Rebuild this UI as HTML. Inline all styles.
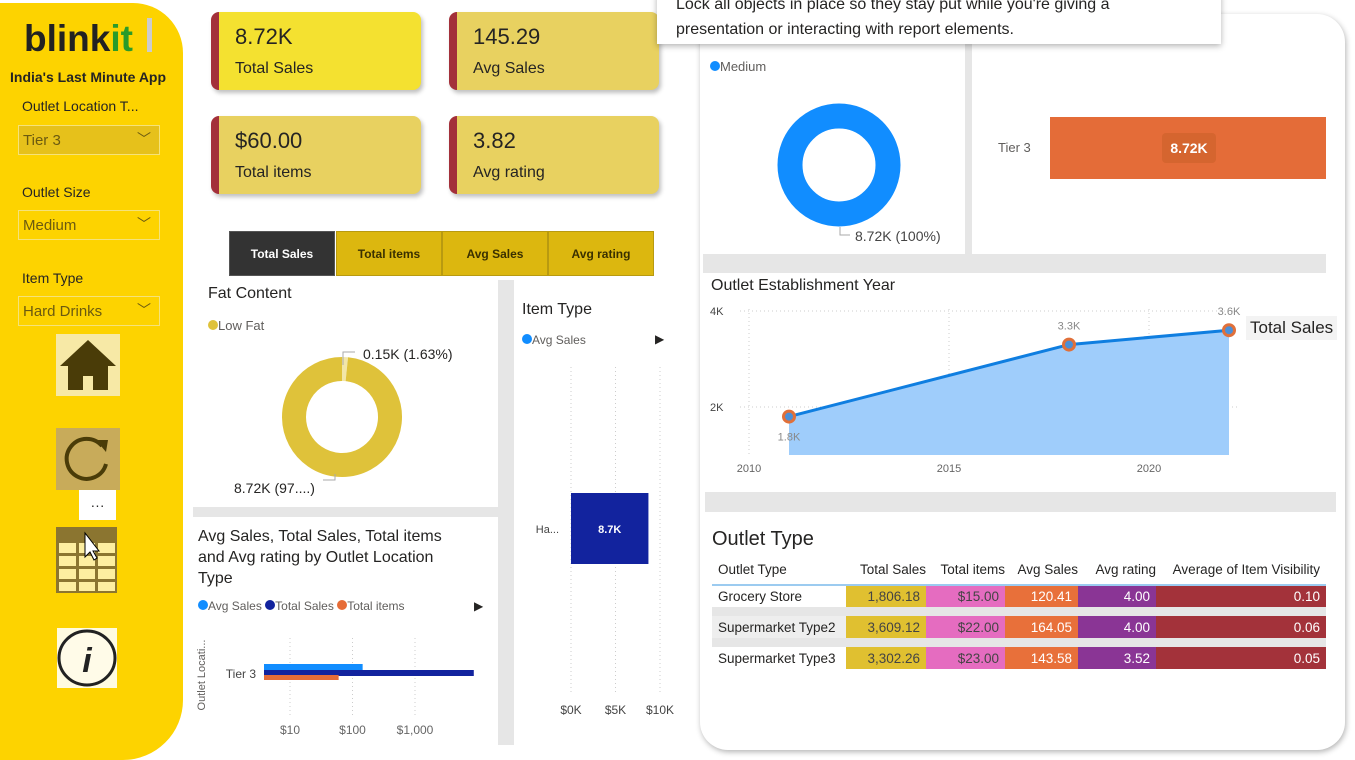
<!DOCTYPE html>
<html><head><meta charset="utf-8">
<style>
*{box-sizing:border-box;margin:0;padding:0}
body{width:1355px;height:760px;position:relative;overflow:hidden;background:#fff;font-family:"Liberation Sans",sans-serif;color:#252423}
.a{position:absolute}
.kpi{position:absolute;width:210px;height:78px;border-radius:8px;border-left:8px solid #a3303a;box-shadow:2px 3px 4px rgba(0,0,0,.25);padding:12px 0 0 16px}
.kpi .v{font-size:22px;color:#252423}
.kpi .l{font-size:16px;margin-top:10px}
.sl{position:absolute;left:18px;width:142px;height:30px;border:1px solid #f5e27a;background:#e6c11b;font-size:15px;color:#6b5a10;padding:6px 4px}
.sl span{position:absolute;right:8px;top:3px;font-size:14px}
.btn{position:absolute;top:231px;height:45px;background:#dcb70f;border:1px solid #b89a10;font-size:12px;font-weight:bold;color:#3a3000;text-align:center;line-height:45px}
svg text{font-family:"Liberation Sans",sans-serif}
table{border-collapse:collapse;font-size:13.5px}
</style></head><body>
<!-- sidebar -->
<div class="a" style="left:0;top:3px;width:183px;height:757px;background:#fdd300;border-radius:0 50px 60px 0"></div>
<div class="a" style="left:24px;top:18px;font-size:37px;font-weight:bold;color:#222">blink<span style="color:#2a9b2a">it</span></div>
<div class="a" style="left:147px;top:18px;width:5px;height:34px;background:#ccc"></div>
<div class="a" style="left:10px;top:69px;font-size:14px;font-weight:bold">India's Last Minute App</div>
<div class="a" style="left:22px;top:98px;font-size:14px">Outlet Location T...</div>
<div class="sl" style="top:125px">Tier 3<span>﹀</span></div>
<div class="a" style="left:22px;top:184px;font-size:14px">Outlet Size</div>
<div class="sl" style="top:210px;background:#fdd300">Medium<span>﹀</span></div>
<div class="a" style="left:22px;top:270px;font-size:14px">Item Type</div>
<div class="sl" style="top:296px;background:#fdd300">Hard Drinks<span>﹀</span></div>
<div class="a" style="left:56px;top:334px;width:64px;height:62px;background:#f7e9a6">
<svg width="64" height="62"><polygon points="32,6 4,32 12,32 12,56 27,56 27,42 37,42 37,56 52,56 52,32 60,32" fill="#4a3c08"/></svg></div>
<div class="a" style="left:56px;top:428px;width:64px;height:62px;background:#c8ab5a">
<svg width="64" height="62"><path d="M46 18 A20 20 0 1 0 50 36" fill="none" stroke="#4a3c08" stroke-width="4"/><polygon points="40,12 52,12 50,24" fill="#4a3c08"/></svg></div>
<div class="a" style="left:79px;top:490px;width:37px;height:30px;background:#fff;text-align:center;font-size:14px;line-height:30px">···</div>
<div class="a" style="left:56px;top:527px;width:61px;height:66px;background:#8b7530">
<svg width="61" height="66"><g fill="#fdeea0"><rect x="3" y="16" width="17" height="10"/><rect x="23" y="16" width="16" height="10"/><rect x="42" y="16" width="17" height="10"/><rect x="3" y="29" width="17" height="10"/><rect x="23" y="29" width="16" height="10"/><rect x="42" y="29" width="17" height="10"/><rect x="3" y="42" width="17" height="10"/><rect x="23" y="42" width="16" height="10"/><rect x="42" y="42" width="17" height="10"/><rect x="3" y="55" width="17" height="9"/><rect x="23" y="55" width="16" height="9"/><rect x="42" y="55" width="17" height="9"/></g><path d="M29 6 L29 30 L34 25 L38 33 L41 31 L37 24 L43 24 Z" fill="#fff" stroke="#000"/></svg></div>
<div class="a" style="left:57px;top:628px;width:60px;height:60px;background:#fffbe0">
<svg width="60" height="60"><ellipse cx="30" cy="30" rx="28" ry="27" fill="#fffbe8" stroke="#222" stroke-width="3"/><text x="30" y="44" text-anchor="middle" font-size="34" font-style="italic" font-weight="bold" font-family="Liberation Serif" fill="#222">i</text></svg></div>

<!-- KPIs -->
<div class="kpi" style="left:211px;top:12px;background:#f4e130"><div class="v">8.72K</div><div class="l">Total Sales</div></div>
<div class="kpi" style="left:449px;top:12px;background:#e8d160"><div class="v">145.29</div><div class="l">Avg Sales</div></div>
<div class="kpi" style="left:211px;top:116px;background:#e8d160"><div class="v">$60.00</div><div class="l">Total items</div></div>
<div class="kpi" style="left:449px;top:116px;background:#e8d160"><div class="v">3.82</div><div class="l">Avg rating</div></div>

<div class="btn" style="left:229px;width:106px;background:#333;color:#fff;border-color:#555">Total Sales</div>
<div class="btn" style="left:336px;width:106px">Total items</div>
<div class="btn" style="left:442px;width:106px">Avg Sales</div>
<div class="btn" style="left:548px;width:106px">Avg rating</div>

<!-- dividers left -->
<div class="a" style="left:498px;top:280px;width:16px;height:465px;background:#e6e6e6"></div>
<div class="a" style="left:193px;top:507px;width:305px;height:10px;background:#e6e6e6"></div>

<!-- fat content -->
<div class="a" style="left:208px;top:285px;font-size:16px">Fat Content</div>
<div class="a" style="left:208px;top:318px;font-size:13px;color:#605e5c"><span style="display:inline-block;width:10px;height:10px;border-radius:50%;background:#dfc23a"></span>Low Fat</div>
<svg class="a" style="left:195px;top:330px" width="300" height="175">
<g id="fatg"></g>
<text x="168" y="29" font-size="14" fill="#252423">0.15K (1.63%)</text>
<text x="39" y="163" font-size="14" fill="#252423">8.72K (97....)</text>
<path d="M148 35 L148 22 L160 22" stroke="#aaa" fill="none"/><path d="M128 150 L140 150 L140 144" stroke="#aaa" fill="none"/>
</svg>

<!-- item type -->
<div class="a" style="left:522px;top:301px;font-size:16px">Item Type</div>
<div class="a" style="left:522px;top:333px;font-size:12px;color:#605e5c"><span style="display:inline-block;width:10px;height:10px;border-radius:50%;background:#118dff"></span>Avg Sales</div>
<div class="a" style="left:655px;top:332px;font-size:12px">▶</div>
<svg class="a" style="left:515px;top:360px" width="180" height="370" id="itemsvg"></svg>

<!-- log bar chart -->
<div class="a" style="left:198px;top:526px;font-size:16px;line-height:21px;width:272px">Avg Sales, Total Sales, Total items and Avg rating by Outlet Location Type</div>
<div class="a" style="left:198px;top:599px;font-size:12px;color:#605e5c">
<span style="display:inline-block;width:10px;height:10px;border-radius:50%;background:#118dff"></span>Avg Sales <span style="display:inline-block;width:10px;height:10px;border-radius:50%;background:#12239e"></span>Total Sales <span style="display:inline-block;width:10px;height:10px;border-radius:50%;background:#e66c37"></span>Total items</div>
<div class="a" style="left:474px;top:599px;font-size:12px">▶</div>
<svg class="a" style="left:193px;top:620px" width="305" height="125" id="logsvg">
<text transform="translate(12,55) rotate(-90)" text-anchor="middle" font-size="11" fill="#605e5c">Outlet Locati...</text>
</svg>

<!-- right card -->
<div class="a" style="left:700px;top:14px;width:645px;height:736px;background:#fff;border-radius:28px;box-shadow:1px 2px 6px rgba(0,0,0,.3)"></div>
<div class="a" style="left:965px;top:40px;width:7px;height:215px;background:#e6e6e6"></div>
<div class="a" style="left:703px;top:254px;width:623px;height:19px;background:#e6e6e6"></div>
<div class="a" style="left:705px;top:492px;width:631px;height:20px;background:#e6e6e6"></div>

<div class="a" style="left:710px;top:59px;font-size:13px;color:#605e5c"><span style="display:inline-block;width:10px;height:10px;border-radius:50%;background:#118dff"></span>Medium</div>
<svg class="a" style="left:700px;top:80px" width="265" height="175">
<circle cx="139" cy="85" r="49" fill="none" stroke="#118dff" stroke-width="25"/>
<path d="M140 147 L140 155 L150 155" stroke="#aaa" fill="none"/>
<text x="155" y="161" font-size="14" fill="#444">8.72K (100%)</text>
</svg>
<div class="a" style="left:998px;top:140px;font-size:13px;color:#605e5c">Tier 3</div>
<div class="a" style="left:1050px;top:117px;width:276px;height:62px;background:#e46c38"></div>
<div class="a" style="left:1162px;top:133px;width:54px;height:30px;background:#d5652f;border-radius:4px;color:#fff;font-weight:bold;font-size:14px;text-align:center;line-height:30px">8.72K</div>

<div class="a" style="left:711px;top:277px;font-size:16px">Outlet Establishment Year</div>
<svg class="a" style="left:700px;top:295px" width="645" height="190" id="linesvg"></svg>
<div class="a" style="left:1246px;top:316px;padding:2px 4px;background:#f3f3f3;font-size:17px">Total Sales</div>

<!-- table -->
<div class="a" style="left:712px;top:528px;font-size:20px">Outlet Type</div>
<table class="a" style="left:712px;top:555px;width:614px">
<tr style="height:30px;color:#252423;border-bottom:2px solid #9ccbf0"><td style="padding-left:6px;width:134px">Outlet Type</td><td style="text-align:right;width:80px">Total Sales</td><td style="text-align:right;width:79px">Total items</td><td style="text-align:right;width:73px">Avg Sales</td><td style="text-align:right;width:78px">Avg rating</td><td style="text-align:right;padding-right:6px">Average of Item Visibility</td></tr>
<tbody id="tbody"></tbody></table>

<!-- tooltip -->
<div class="a" style="left:657px;top:-8px;width:564px;height:52px;background:#fff;box-shadow:0 2px 6px rgba(0,0,0,.3);padding:0 19px;font-size:16px;line-height:25px;color:#252423">Lock all objects in place so they stay put while you're giving a<br>presentation or interacting with report elements.</div>

<script>
const NS="http://www.w3.org/2000/svg";
function mk(p,t,a){const e=document.createElementNS(NS,t);for(const k in a)e.setAttribute(k,a[k]);p.appendChild(e);return e;}
// fat content donut
const fatLabels=["Low Fat","Regular"];
const fatValues=[8.58,0.14];
(function(){
const g=document.getElementById('fatg');const cx=147,cy=87,r=48;const tot=fatValues.reduce((a,b)=>a+b);
const cols=["#dfc23a","#f2e6a8"];
let start=-Math.PI/2;
fatValues.slice().reverse().forEach((v,i)=>{
 const ang=v/tot*Math.PI*2;const e=start+ang;
 const x1=cx+r*Math.cos(start),y1=cy+r*Math.sin(start),x2=cx+r*Math.cos(e),y2=cy+r*Math.sin(e);
 const p=mk(g,'path',{d:`M${x1} ${y1} A${r} ${r} 0 ${ang>Math.PI?1:0} 1 ${x2} ${y2}`,fill:'none',stroke:cols[1-i],'stroke-width':24});
 
 
 start=e;});
})();
// item type bar
const itemCats=["Ha..."];
const itemValues=[8.7];
const itemTicks=[0,5,10];
(function(){
const s=document.getElementById('itemsvg');const x=v=>56+v*8.9;
itemTicks.forEach(t=>{mk(s,'line',{x1:x(t),x2:x(t),y1:7,y2:335,stroke:'#ccc','stroke-dasharray':'1 3'});const tx=mk(s,'text',{x:x(t),y:354,'text-anchor':'middle','font-size':12,fill:'#444'});tx.textContent='$'+t+'K';});
itemValues.forEach((v,i)=>{const b=mk(s,'rect',{x:x(0),y:133,width:x(v)-x(0),height:71,fill:'#12239e'});


const t=mk(s,'text',{x:(x(0)+x(v))/2,y:173,'text-anchor':'middle','font-size':11,'font-weight':'bold',fill:'#fff'});t.textContent=v+'K';
const l=mk(s,'text',{x:x(0)-12,y:173,'text-anchor':'end','font-size':11,fill:'#444'});l.textContent=itemCats[i];});
})();
// log chart
const locCats=["Tier 3"];
const locAvgSales=[145.29];
const locTotalSales=[8720];
const locTotalItems=[60];
const locTicks=[10,100,1000];
const locTickLabels=["$10","$100","$1,000"];
(function(){
const s=document.getElementById('logsvg');const x=v=>97+62.5*Math.log10(v/10);const x0=71;
locTicks.forEach((t,i)=>{mk(s,'line',{x1:x(t),x2:x(t),y1:18,y2:95,stroke:'#ccc','stroke-dasharray':'1 3'});const tx=mk(s,'text',{x:x(t),y:114,'text-anchor':'middle','font-size':12,fill:'#666'});tx.textContent=locTickLabels[i];});
const l=mk(s,'text',{x:63,y:58,'text-anchor':'end','font-size':12,fill:'#444'});l.textContent=locCats[0];
[[locAvgSales,'#118dff',44,7],[locTotalSales,'#12239e',50,6],[locTotalItems,'#e66c37',55,5]].forEach(([arr,c,y,h])=>{
 const b=mk(s,'rect',{x:x0,y:y,width:x(arr[0])-x0,height:h,fill:c});
 
 });
})();
// line chart
const years=[2011,2018,2022];
const yearSales=[1.8,3.3,3.6];
const yearLabels=["1.8K","3.3K","3.6K"];
const xTicks=[2010,2015,2020];
const yTicks=[2,4];
(function(){
const s=document.getElementById('linesvg');const x=y=>49+(y-2010)*40;const y=v=>160-(v-1)*48;
yTicks.forEach(t=>{mk(s,'line',{x1:40,x2:540,y1:y(t),y2:y(t),stroke:'#ccc','stroke-dasharray':'1 3'});const tx=mk(s,'text',{x:10,y:y(t)+4,'font-size':11,fill:'#444'});tx.textContent=t+'K';});
xTicks.forEach(t=>{mk(s,'line',{x1:x(t),x2:x(t),y1:14,y2:160,stroke:'#ccc','stroke-dasharray':'1 3'});const tx=mk(s,'text',{x:x(t),y:177,'text-anchor':'middle','font-size':11,fill:'#666'});tx.textContent=t;});
let d='';years.forEach((yr,i)=>{d+=(i?'L':'M')+x(yr)+' '+y(yearSales[i]);});
const area=mk(s,'path',{d:d+`L${x(years[years.length-1])} ${y(1)} L${x(years[0])} ${y(1)}Z`,fill:'#9fcdfb'});


const ln=mk(s,'path',{d:d,fill:'none',stroke:'#0f7ee0','stroke-width':3});


years.forEach((yr,i)=>{const c=mk(s,'circle',{cx:x(yr),cy:y(yearSales[i]),r:5.5,fill:'#4a8fd8',stroke:'#e0703a','stroke-width':3});


const t=mk(s,'text',{x:x(yr),y:i==0?y(yearSales[i])+24:y(yearSales[i])-15,'text-anchor':'middle','font-size':11,fill:'#888'});t.textContent=yearLabels[i];});
})();
// table
const tRows=["Grocery Store","Supermarket Type2","Supermarket Type3"];
const tSales=["1,806.18","3,609.12","3,302.26"];
const tItems=["$15.00","$22.00","$23.00"];
const tAvg=["120.41","164.05","143.58"];
const tRating=["4.00","4.00","3.52"];
const tVis=["0.10","0.06","0.05"];
(function(){
const tb=document.getElementById('tbody');
tRows.forEach((r,i)=>{
 if(i){const sp=document.createElement('tr');sp.style.height='9px';sp.innerHTML='<td style="background:#e6e6e6"></td><td colspan="5" style="background:#e6e6e6"></td>';tb.appendChild(sp);}
 const tr=document.createElement('tr');tr.style.height='22px';
 
 
 const c=(v,bg,col)=>`<td style="text-align:right;padding-right:6px;background:${bg};color:${col}">${v}</td>`;
 tr.innerHTML=`<td style="padding-left:6px;background:${i==1?'#eee':'#fff'}">${r}</td>`+c(tSales[i],'#e0c030','#444')+c(tItems[i],'#e56cc0','#444')+c(tAvg[i],'#e8703a','#fff')+c(tRating[i],'#8a3595','#fff')+c(tVis[i],'#a3323a','#fff');
 tb.appendChild(tr);});
})();
</script>
</body></html>
